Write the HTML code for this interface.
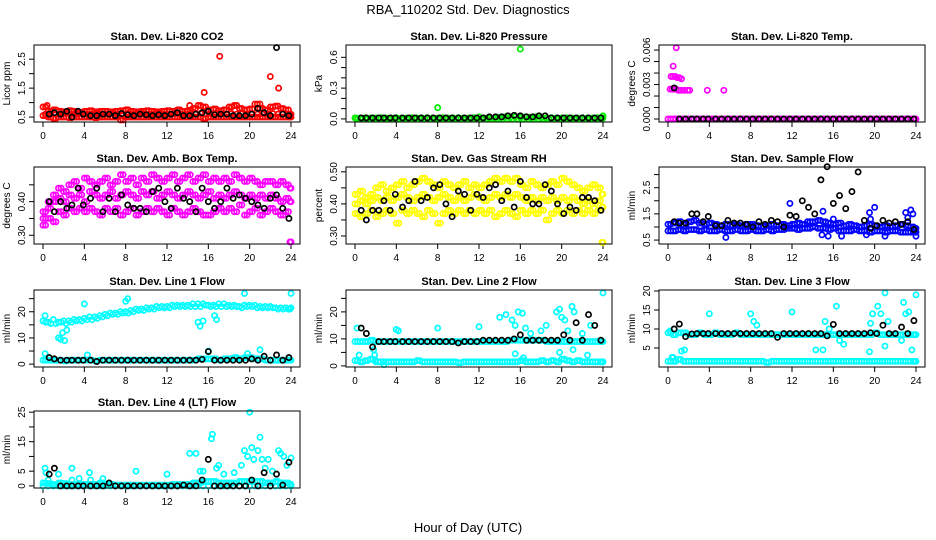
<!DOCTYPE html>
<html><head><meta charset="utf-8"><style>
body{margin:0;background:#fff}
svg{display:block;font-family:"Liberation Sans",sans-serif}
</style></head><body>
<svg id="c" width="936" height="540" viewBox="0 0 936 540">
<rect width="936" height="540" fill="#fff"/>
<text x="468" y="14" text-anchor="middle" font-size="13">RBA_110202  Std. Dev. Diagnostics</text>
<text x="468" y="532" text-anchor="middle" font-size="13">Hour of Day (UTC)</text>
</svg>
<script>
// shared hour grids
const H=[0,0.5,1,1.5,2,2.5,3,3.5,4,4.5,5,5.5,6,6.5,7,7.5,8,8.5,9,9.5,10,10.5,11,11.5,12,12.5,13,13.5,14,14.5,15,15.5,16,16.5,17,17.5,18,18.5,19,19.5,20,20.5,21,21.5,22,22.5,23,23.5,24];
const H2=[0.25,0.75,1.25,1.75,2.25,2.75,3.25,3.75,4.25,4.75,5.25,5.75,6.25,6.75,7.25,7.75,8.25,8.75,9.25,9.75,10.25,10.75,11.25,11.75,12.25,12.75,13.25,13.75,14.25,14.75,15.25,15.75,16.25,16.75,17.25,17.75,18.25,18.75,19.25,19.75,20.25,20.75,21.25,21.75,22.25,22.75,23.25,23.75,23.9];
const BH=[0.6,1.1,1.7,2.3,2.8,3.4,3.9,4.6,5.2,5.8,6.4,7.0,7.6,8.2,8.8,9.4,10.0,10.6,11.2,11.8,12.4,13.0,13.6,14.2,14.8,15.4,16.0,16.6,17.2,17.8,18.4,19.0,19.6,20.2,20.8,21.4,22.0,22.6,23.2,23.8];
const xTicks=[0,4,8,12,16,20,24];
// P1 CO2
const co2A=[0.85,0.7,0.75,0.7,0.68,0.72,0.7,0.66,0.7,0.72,0.68,0.7,0.7,0.68,0.7,0.72,0.75,0.7,0.68,0.7,0.72,0.7,0.68,0.7,0.72,0.7,0.75,0.7,0.72,0.8,0.9,0.85,0.75,0.78,0.72,0.75,0.85,0.9,0.8,0.75,0.78,0.95,0.8,0.75,0.85,0.88,0.8,0.75,0.6];
const co2B=[0.6,0.62,0.6,0.6,0.62,0.6,0.6,0.62,0.6,0.6,0.62,0.6,0.6,0.62,0.6,0.6,0.62,0.6,0.6,0.62,0.6,0.6,0.62,0.6,0.6,0.62,0.6,0.6,0.62,0.6,0.62,0.6,0.62,0.6,0.62,0.6,0.62,0.6,0.62,0.6,0.62,0.6,0.62,0.6,0.62,0.6,0.62,0.6,0.55];
const co2C=[0.55,0.5,0.45,0.5,0.5,0.48,0.5,0.5,0.5,0.5,0.48,0.5,0.5,0.5,0.5,0.4,0.5,0.5,0.5,0.5,0.5,0.5,0.5,0.5,0.5,0.5,0.5,0.5,0.5,0.5,0.5,0.45,0.5,0.5,0.5,0.5,0.5,0.5,0.5,0.5,0.5,0.5,0.5,0.5,0.5,0.5,0.5,0.5,0.5];
const co2OutH=[15.6,17.1,22,22.8,0.4,14.2,21,18.5];
const co2OutV=[1.35,2.6,1.9,1.5,0.9,0.9,0.95,0.9];
const co2Blk=[0.6,0.65,0.6,0.7,0.5,0.7,0.6,0.55,0.55,0.6,0.6,0.55,0.62,0.58,0.55,0.6,0.58,0.55,0.58,0.55,0.6,0.65,0.55,0.55,0.6,0.65,0.7,0.58,0.6,0.6,0.55,0.55,0.55,0.6,0.8,0.65,0.55,2.9,0.6,0.55];
// P2 pressure
const prA=[0.01,0.01,0.012,0.01,0.01,0.012,0.01,0.01,0.012,0.01,0.01,0.012,0.01,0.01,0.012,0.01,0.01,0.012,0.01,0.01,0.012,0.01,0.01,0.012,0.02,0.01,0.012,0.01,0.015,0.02,0.015,0.02,0.015,0.02,0.015,0.02,0.015,0.01,0.012,0.01,0.01,0.012,0.01,0.01,0.012,0.01,0.01,0.012,0.01];
const prB=[0,0,0,0,0,0,0,0,0,0,0,0,0,0,0,0,0,0,0,0,0,0,0,0,0,0,0,0,0,0,0,0,0,0,0,0,0,0,0,0,0,0,0,0,0,0,0,0,0];
const prOutH=[8,16,24,0.1];
const prOutV=[0.11,0.68,0.03,0.01];
const prBlk=[0.01,0.01,0.01,0.01,0.01,0.01,0.01,0.01,0.01,0.01,0.01,0.01,0.01,0.01,0.01,0.01,0.01,0.01,0.01,0.01,0.01,0.02,0.02,0.02,0.03,0.035,0.03,0.02,0.02,0.03,0.03,0.01,0.01,0.01,0.01,0.01,0.01,0.01,0.01,0.01];
// P3 temp
const tmA=[0,0,0,0,0,0,0,0,0,0,0,0,0,0,0,0,0,0,0,0,0,0,0,0,0,0,0,0,0,0,0,0,0,0,0,0,0,0,0,0,0,0,0,0,0,0,0,0,0];
const tmOutH=[0.2,0.4,0.6,0.8,1.0,1.3,1.6,1.9,2.1,0.3,0.5,0.7,0.9,1.1,1.3,0.5,0.8,3.8,5.4];
const tmOutV=[0.0026,0.0026,0.0026,0.0026,0.0025,0.0025,0.0025,0.0025,0.0025,0.0037,0.0037,0.0037,0.0036,0.0036,0.0035,0.0046,0.0062,0.0025,0.0025];
const tmBlk=[0.0027,0,0,0,0,0,0,0,0,0,0,0,0,0,0,0,0,0,0,0,0,0,0,0,0,0,0,0,0,0,0,0,0,0,0,0,0,0,0,0];
// P4 amb box
const abA=[0.37,0.40,0.42,0.44,0.43,0.45,0.46,0.44,0.47,0.46,0.45,0.46,0.47,0.45,0.46,0.48,0.46,0.47,0.45,0.47,0.46,0.48,0.47,0.46,0.47,0.48,0.46,0.47,0.48,0.46,0.47,0.48,0.46,0.47,0.46,0.47,0.46,0.48,0.47,0.46,0.47,0.46,0.45,0.46,0.46,0.45,0.46,0.45,0.44];
const abB=[0.35,0.38,0.40,0.41,0.40,0.42,0.41,0.42,0.40,0.43,0.42,0.41,0.42,0.43,0.41,0.42,0.43,0.42,0.41,0.43,0.42,0.43,0.41,0.42,0.43,0.42,0.41,0.42,0.43,0.42,0.41,0.42,0.43,0.41,0.42,0.41,0.42,0.43,0.42,0.41,0.42,0.41,0.42,0.41,0.42,0.41,0.40,0.41,0.40];
const abC=[0.33,0.35,0.34,0.37,0.36,0.38,0.37,0.38,0.37,0.38,0.37,0.36,0.38,0.37,0.38,0.36,0.37,0.38,0.36,0.37,0.38,0.37,0.38,0.37,0.36,0.38,0.37,0.36,0.37,0.38,0.37,0.36,0.36,0.37,0.38,0.37,0.38,0.37,0.39,0.36,0.37,0.38,0.36,0.37,0.38,0.37,0.36,0.37,0.28];
const abBlk=[0.40,0.37,0.40,0.38,0.39,0.44,0.39,0.41,0.44,0.37,0.41,0.37,0.42,0.39,0.38,0.38,0.37,0.43,0.44,0.40,0.38,0.44,0.41,0.40,0.37,0.44,0.40,0.38,0.40,0.44,0.41,0.42,0.41,0.40,0.39,0.38,0.41,0.42,0.38,0.35];
// P5 RH
const rhA=[0.43,0.44,0.42,0.43,0.45,0.46,0.44,0.45,0.46,0.47,0.45,0.46,0.47,0.48,0.47,0.46,0.45,0.47,0.46,0.45,0.46,0.47,0.45,0.46,0.45,0.46,0.47,0.48,0.47,0.48,0.47,0.48,0.46,0.45,0.47,0.46,0.45,0.46,0.47,0.46,0.48,0.47,0.46,0.45,0.44,0.45,0.46,0.45,0.43];
const rhB=[0.40,0.41,0.40,0.41,0.42,0.41,0.42,0.41,0.42,0.43,0.42,0.41,0.42,0.43,0.42,0.41,0.42,0.43,0.42,0.41,0.42,0.41,0.42,0.43,0.42,0.41,0.42,0.43,0.42,0.43,0.42,0.43,0.42,0.41,0.42,0.41,0.42,0.41,0.42,0.41,0.42,0.41,0.42,0.41,0.40,0.41,0.40,0.41,0.39];
const rhC=[0.37,0.36,0.37,0.38,0.36,0.37,0.38,0.37,0.34,0.38,0.37,0.38,0.37,0.36,0.38,0.37,0.34,0.37,0.38,0.37,0.38,0.37,0.38,0.37,0.38,0.37,0.38,0.36,0.37,0.38,0.37,0.36,0.38,0.37,0.38,0.37,0.38,0.35,0.37,0.38,0.37,0.38,0.37,0.38,0.37,0.38,0.37,0.38,0.28];
const rhBlk=[0.38,0.35,0.38,0.38,0.41,0.38,0.43,0.39,0.41,0.47,0.41,0.42,0.45,0.46,0.40,0.36,0.44,0.43,0.38,0.43,0.42,0.45,0.46,0.41,0.44,0.39,0.47,0.42,0.40,0.40,0.46,0.44,0.40,0.37,0.39,0.38,0.42,0.42,0.41,0.38];
// P6 sample flow
const sfA=[1.1,1.15,1.2,1.1,1.2,1.25,1.15,1.1,1.15,1.1,1.05,1.1,1.05,1.1,1.05,1.1,1.1,1.05,1.0,1.05,1.1,1.05,1.1,1.05,1.1,1.15,1.1,1.2,1.2,1.25,1.2,1.15,1.1,1.15,1.05,1.1,1.05,1.0,1.05,1.1,1.05,1.0,1.05,1.0,1.05,1.1,1.05,1.0,0.95];
const sfB=[0.85,0.85,0.9,0.85,0.9,0.9,0.85,0.9,0.85,0.85,0.9,0.85,0.85,0.9,0.85,0.85,0.9,0.85,0.85,0.9,0.85,0.9,0.9,0.95,0.95,0.9,0.95,0.95,1.0,0.95,0.95,0.9,0.95,0.85,0.85,0.85,0.9,0.85,0.85,0.8,0.85,0.85,0.8,0.85,0.85,0.8,0.8,0.8,0.8];
const sfOutH=[5.6,11.8,15.0,15.5,16.0,19.5,19.6,20.0,23.0,23.2,23.5,23.7,24.0,16.8,14.9,19.2,21.0];
const sfOutV=[0.6,1.9,1.6,0.65,1.3,1.55,1.3,1.75,1.55,1.35,1.65,1.5,0.65,0.65,0.7,0.7,0.65];
const sfBlk=[1.2,1.15,1.15,1.5,1.5,1.2,1.4,1.05,1.05,1.25,1.15,1.15,1.1,1.0,1.2,1.1,1.25,1.2,1.0,1.45,1.4,2.0,1.75,1.5,2.8,3.3,1.9,2.2,1.7,2.35,3.1,1.25,0.95,1.05,1.25,1.15,1.2,1.1,1.2,0.9];
// P7 line1
const l1A=[16.5,16,17,16,16.5,16.5,17,17,17.5,18,18,18.5,19,19.5,19.5,20,20,20.5,21,21,21.5,21.5,22,22,22,22.5,22.5,22.5,22.5,23,23,23,22.5,22.5,23,23,22.5,22.5,22,22.5,22.5,22.5,22,22,22,21.5,21.5,21.5,21.5];
const l1B=[16,15.5,15.5,16,15.5,16,16.5,16.5,17,17,17.5,18,18.5,19,19,19.5,19.5,20,20.5,20.5,21,21,21.5,21.5,21.5,22,22,22,22,22,22,22.5,22,22,22,22,22,22,21.5,22,22,21.5,21.5,21.5,21.5,21,21,21,21];
const l1C=[1.5,1.5,1.5,1.5,1.2,1.5,1.5,1.5,1.5,1.5,1.2,1.5,1.5,1.5,1.5,1.5,1.5,1.5,1.5,1.5,1.5,1.5,1.5,1.5,1.5,1.5,1.5,1.5,1.5,1.5,2,2,2,2,1.5,2,2,2.5,2,2.5,2.5,2,2,1.5,1.5,1.5,1.5,1.5,1.5];
const l1OutH=[1.5,1.7,1.9,2.1,2.3,4,8,8.2,15,15.2,15.5,16.6,16.8,19.5,24,0.2,4.3,16,19.8,21,0.2];
const l1OutV=[10,9.5,12,9,13,23,24,25,16,14.5,16.5,18.5,17,27,27,4,3.5,5,4,5.5,18.5];
const l1Blk=[2.5,2,1.5,1.5,1.5,1.5,1.5,1.5,1,1.5,1.5,1.5,1.5,1.5,1.5,1.5,1.5,1.5,1.5,1.5,1.5,1.5,1.5,1.5,1.5,1.8,4.8,1.5,1.5,1.5,1.5,1.5,1.5,2,1.5,3,1.5,3.5,1.5,2.5];
// P8 line2
const l2A=[9,9,9,9.5,9,9,9,9,9,9,9,9,9,9,9,9,9,9,9,9,9,9,9,9,9,9,9,9,9,9,9.5,9.5,9.5,9.5,9.5,9.5,9.5,9,9,9,9,9,9,9,9,9,9,9,9];
const l2B=[2,1.5,2,2.5,1.5,1.5,1.5,1.5,1.5,1.5,1.5,1.5,2,1.5,1.5,1.5,1.5,1.5,1.5,1.5,1.2,1.5,1.5,1.5,1.5,1.5,1.5,1.5,1.5,1.5,1.5,1.5,2,1.5,1.5,1.5,2,1.5,2,1.5,2.5,2,1.5,2,1.5,1.5,1.5,1.5,1.5];
const l2OutH=[0.2,0.4,1.8,1.9,2.0,4,4.2,8,12,14,14.6,15.2,15.5,15.8,16.2,16.5,17,18,18.5,19.5,19.8,20,20.3,20.6,21,21.2,22,22.8,24,15.5,16.3,19.8,21.1,22.5,2.8];
const l2OutV=[14,4,6,4,2,13.5,13,14,14.5,18,19,17,15,20,19.5,14,12,13,15,20,21,18,17,13,22,20,12,15,27,4.5,3,5,6,4,0.5];
const l2Blk=[14,12,7,9,9,9,9,9,9,9,9,9,9,9,9,9,8.5,9,9,9,9.5,9.5,9.5,9.5,9.5,10,11.5,9.5,9.5,9.5,9.5,9.5,9.5,11.5,9.5,16,9.5,19,15,9.5];
// P9 line3
const l3A=[9,8.5,9,9,8.5,8.5,9,8.5,8.5,9,8.5,8.5,8.5,9,8.5,8.5,8.5,8.5,8.5,8.5,8.5,8.5,8.5,8.5,8.5,8.5,8.5,8.5,8.5,8.5,8.5,8.5,8.5,8.5,8.5,8.5,8.5,8.5,8.5,8.5,9,8.5,8.5,8.5,8.5,8.5,8.5,8.5,8.5];
const l3B=[1.5,1.5,2,1.5,1.5,1.5,1.5,1.5,1.5,1.5,1.5,1.5,1.5,1.5,1.5,1.5,1.5,1.5,1.5,1.2,1.5,1.5,1.5,1.5,1.5,1.5,1.5,1.5,1.5,1.5,1.5,1.5,1.5,1.5,1.5,1.5,1.5,1.5,1.5,1.5,1.5,1.5,1.5,1.5,1.5,1.5,1.5,1.5,1.5];
const l3OutH=[0.2,0.5,1.3,1.6,4,8,8.3,8.6,12,14.3,15,15.2,15.6,16.3,16.6,17,19.5,19.8,20.3,20.6,21,21.3,22.8,23,23.3,23.6,24,0.4,19.6,21,22.6];
const l3OutV=[9.5,2.5,4.2,4.5,14,14,12,11,14.5,4.5,4.5,12,10,16,7,6,4,14,16,14,19.5,12,17,14,14.5,4.5,19,2.5,11.5,5.5,7];
const l3Blk=[10,11.3,8,8.7,8.8,8.8,8.8,8.8,8.8,8.8,8.8,8.8,8.8,8.8,8.8,8.8,8.8,7.8,8.8,8.8,8.8,8.8,8.8,8.8,8.8,8.2,11.2,8.8,8.8,8.8,8.8,8.8,9,8.8,11,8.8,8.8,10.5,8.8,12.2];
// P10 line4
const l4A=[1,0.8,0.5,1,0.8,0.5,0.5,0.5,0.5,0.5,0.5,1,0.5,0.5,0.3,0.3,0.3,0.3,0.3,0.3,0.3,0.3,0.3,0.3,0.3,0.5,0.5,0.5,0.5,1,1,1.5,1.5,1.5,1,1,1,1,1.5,1.5,1.5,1.5,1.5,1,1,1.5,1,1,0.5];
const l4B=[0,0,0,0,0,0,0,0,0,0,0,0,0,0,0,0,0,0,0,0,0,0,0,0,0,0,0,0,0,0,0,0,0,0,0,0,0,0,0,0,0,0,0,0,0,0,0,0,0];
const l4OutH=[0.2,0.3,1.5,2.8,3.5,4.5,5.8,9,12,14.2,14.8,15.2,15.5,16.3,16.4,16.8,17,17.5,18.5,19.2,19.5,19.8,20,20.2,20.4,20.8,21,21.2,21.5,21.8,22.2,22.8,23,23.3,23.6,24,0.5,2.8,4.6];
const l4OutV=[6,4.5,4,6,2.5,4.5,2.5,5,4,11,11,5,5,16,17.5,6,7,4,4.5,7,12,10,25,13,9,12,16.5,9,6,9,5,12,11,10,7,9.5,2,2,2];
const l4Blk=[4,6,0,0,0,0,0,0,0,0,1,0,0,0,0,0,0,0,0,0,0,0,0.3,0,0,2,9,0,0,0,0,0,0,2,0,4.5,0,4,0.3,8];

const svg=document.getElementById('c');
const NS='http://www.w3.org/2000/svg';
function mk(tag,attrs,parent){const e=document.createElementNS(NS,tag);for(const k in attrs)e.setAttribute(k,attrs[k]);(parent||svg).appendChild(e);return e;}

const colX=[34,346,659], rowY=[45,167,290,411], BW=266, BHt=77;
const panels=[
 {c:0,r:0,name:'co2',title:'Stan. Dev. Li-820 CO2',ylab:'Licor ppm',top:2.99,bot:0.33,ticks:[0.5,1,1.5,2,2.5],labs:['0.5','','1.5','','2.5'],
  s:[[H,co2A,'#ff0000'],[H2,co2B,'#ff0000'],[H,co2C,'#ff0000'],[H2,co2A,'#ff0000'],[H2,co2C,'#ff0000'],[co2OutH,co2OutV,'#ff0000'],[BH,co2Blk,'#000']]},
 {c:1,r:0,name:'pressure',title:'Stan. Dev. Li-820 Pressure',ylab:'kPa',top:0.72,bot:-0.03,ticks:[0,0.1,0.2,0.3,0.4,0.5,0.6],labs:['0.0','','','0.3','','','0.6'],
  s:[[H,prA,'#00ee00'],[H2,prB,'#00ee00'],[prOutH,prOutV,'#00ee00'],[BH,prBlk,'#000']]},
 {c:2,r:0,name:'temp',title:'Stan. Dev. Li-820 Temp.',ylab:'degrees C',top:0.00644,bot:-0.00026,ticks:[0,0.001,0.002,0.003,0.004,0.005,0.006],labs:['0.000','','','0.003','','','0.006'],
  s:[[H,tmA,'#ff00ff'],[H2,tmA,'#ff00ff'],[tmOutH,tmOutV,'#ff00ff'],[BH,tmBlk,'#000']]},
 {c:0,r:1,name:'amb-box-temp',title:'Stan. Dev. Amb. Box Temp.',ylab:'degrees C',top:0.503,bot:0.274,ticks:[0.30,0.35,0.40,0.45],labs:['0.30','','0.40',''],
  s:[[H,abA,'#ff00ff'],[H2,abB,'#ff00ff'],[H,abC,'#ff00ff'],[H2,abA,'#ff00ff'],[H,abB,'#ff00ff'],[H2,abC,'#ff00ff'],[BH,abBlk,'#000']]},
 {c:1,r:1,name:'gas-stream-rh',title:'Stan. Dev. Gas Stream RH',ylab:'percent',top:0.515,bot:0.275,ticks:[0.30,0.35,0.40,0.45,0.50],labs:['0.30','','0.40','','0.50'],
  s:[[H,rhA,'#ffff00'],[H2,rhB,'#ffff00'],[H,rhC,'#ffff00'],[H2,rhA,'#ffff00'],[H,rhB,'#ffff00'],[H2,rhC,'#ffff00'],[BH,rhBlk,'#000']]},
 {c:2,r:1,name:'sample-flow',title:'Stan. Dev. Sample Flow',ylab:'ml/min',top:3.29,bot:0.35,ticks:[0.5,1,1.5,2,2.5,3],labs:['0.5','','1.5','','2.5',''],
  s:[[H,sfA,'#0000ff'],[H2,sfB,'#0000ff'],[H2,sfA,'#0000ff'],[H,sfB,'#0000ff'],[sfOutH,sfOutV,'#0000ff'],[BH,sfBlk,'#000']]},
 {c:0,r:2,name:'line1-flow',title:'Stan. Dev. Line 1 Flow',ylab:'ml/min',top:28.3,bot:-1.1,ticks:[0,5,10,15,20,25],labs:['0','','10','','20',''],
  s:[[H,l1A,'#00ffff'],[H2,l1B,'#00ffff'],[H,l1C,'#00ffff'],[H2,l1C,'#00ffff'],[l1OutH,l1OutV,'#00ffff'],[BH,l1Blk,'#000']]},
 {c:1,r:2,name:'line2-flow',title:'Stan. Dev. Line 2 Flow',ylab:'ml/min',top:28.1,bot:-0.4,ticks:[0,5,10,15,20,25],labs:['0','','10','','20',''],
  s:[[H,l2A,'#00ffff'],[H2,l2A,'#00ffff'],[H,l2B,'#00ffff'],[H2,l2B,'#00ffff'],[l2OutH,l2OutV,'#00ffff'],[BH,l2Blk,'#000']]},
 {c:2,r:2,name:'line3-flow',title:'Stan. Dev. Line 3 Flow',ylab:'ml/min',top:20.26,bot:0,ticks:[5,10,15,20],labs:['5','10','15','20'],
  s:[[H,l3A,'#00ffff'],[H2,l3A,'#00ffff'],[H,l3B,'#00ffff'],[H2,l3B,'#00ffff'],[l3OutH,l3OutV,'#00ffff'],[BH,l3Blk,'#000']]},
 {c:0,r:3,name:'line4-flow',title:'Stan. Dev. Line 4 (LT) Flow',ylab:'ml/min',top:25.4,bot:-0.7,ticks:[0,5,10,15,20,25],labs:['0','5','','15','','25'],
  s:[[H,l4A,'#00ffff'],[H2,l4A,'#00ffff'],[H,l4B,'#00ffff'],[l4OutH,l4OutV,'#00ffff'],[BH,l4Blk,'#000']]}
];

panels.forEach(p=>{
  const x0=colX[p.c], y0=rowY[p.r];
  const g=mk('g',{});
  
  
  const xs=h=>x0+9+h*(248/24);
  const ys=v=>y0+(p.top-v)/(p.top-p.bot)*BHt;
  const t=mk('text',{x:x0+BW/2,y:y0-5,'text-anchor':'middle','font-size':'11','font-weight':'bold'},g);
  t.textContent=p.title;
  
  
  const yl=mk('text',{transform:`translate(${x0-24},${y0+BHt/2}) rotate(-90)`,'text-anchor':'middle','font-size':'10'},g);
  yl.textContent=p.ylab;
  
  
  xTicks.forEach(h=>{
    mk('line',{x1:xs(h),x2:xs(h),y1:y0+BHt,y2:y0+BHt+5,stroke:'#000','stroke-width':1},g);
    const tl=mk('text',{x:xs(h),y:y0+BHt+17,'text-anchor':'middle','font-size':'10'},g);
    tl.textContent=h;
    
    
  });
  p.ticks.forEach((v,i)=>{
    mk('line',{x1:x0-5,x2:x0,y1:ys(v),y2:ys(v),stroke:'#000','stroke-width':1},g);
    if(p.labs[i]){
      const tl=mk('text',{transform:`translate(${x0-9},${ys(v)}) rotate(-90)`,'text-anchor':'middle','font-size':'10'},g);
      tl.textContent=p.labs[i];
      
      
    }
  });
  p.s.forEach(([xa,va,col])=>{
    va.forEach((v,i)=>{
      const c=mk('circle',{cx:xs(xa[i]),cy:ys(v),r:2.6,fill:'none',stroke:col,'stroke-width':1.7},g);
      
      
    });
  });
  const box=mk('rect',{x:x0,y:y0,width:BW,height:BHt,fill:'none',stroke:'#000','stroke-width':1},g);
  
  
});
</script>
</body></html>
